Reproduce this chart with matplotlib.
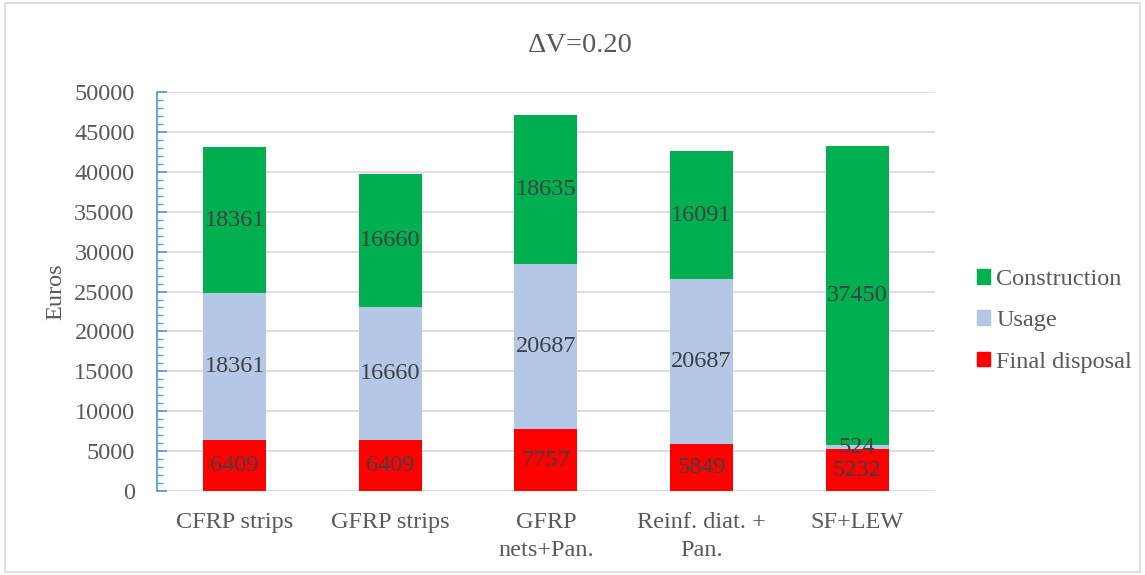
import numpy as np
import matplotlib.pyplot as plt
from matplotlib.patches import Rectangle, Patch
from matplotlib.ticker import MultipleLocator

plt.rcParams['font.family'] = ['Liberation Serif', 'DejaVu Serif']

categories = ["CFRP strips", "GFRP strips", "GFRP\nnets+Pan.", "Reinf. diat. +\nPan.", "SF+LEW"]
final_disposal = [6409, 6409, 7757, 5849, 5232]
usage = [18361, 16660, 20687, 20687, 524]
construction = [18361, 16660, 18635, 16091, 37450]

c_final = "#FF0000"
c_usage = "#B4C7E7"
c_constr = "#00B050"
txt = "#404040"
tick_col = "#595959"

fig = plt.figure(figsize=(11.45, 5.75), dpi=100)
ax = fig.add_axes([0.137, 0.146, 0.6796, 0.694])

x = np.arange(len(categories))
w = 0.405
fin = np.array(final_disposal)
use = np.array(usage)
con = np.array(construction)

b1 = ax.bar(x, fin, w, color=c_final, zorder=2)
b2 = ax.bar(x, use, w, bottom=fin, color=c_usage, zorder=2)
b3 = ax.bar(x, con, w, bottom=fin + use, color=c_constr, zorder=2)

for bars, vals in [(b1, fin), (b2, use), (b3, con)]:
    ax.bar_label(bars, labels=[str(v) for v in vals], label_type='center',
                 color=txt, fontsize=17.5)

ax.set_xlim(-0.5, len(categories) - 0.5)
ax.set_ylim(0, 50000)
ax.yaxis.set_major_locator(MultipleLocator(5000))
ax.yaxis.set_minor_locator(MultipleLocator(1000))
ax.grid(axis='y', color="#D9D9D9", linewidth=1.2, zorder=0)
ax.set_axisbelow(True)

for s in ['top', 'right', 'bottom']:
    ax.spines[s].set_visible(False)
ax.spines['left'].set_color("#5B9BD5")
ax.spines['left'].set_linewidth(1.3)

ax.tick_params(axis='y', which='major', direction='in', length=7, width=1.3,
               color="#5B9BD5", labelsize=17.5, labelcolor=tick_col, pad=16)
ax.tick_params(axis='y', which='minor', direction='in', length=4, width=1.0,
               color="#5B9BD5")
ax.tick_params(axis='x', length=0, labelsize=17.5, labelcolor=tick_col, pad=15)
ax.set_xticks(x)
ax.set_xticklabels(categories, linespacing=1.45)

ax.set_ylabel("Euros", fontsize=17.5, color=tick_col, labelpad=6)
fig.text(0.507, 0.921, "\u0394V=0.20", ha='center', va='center', fontsize=20.5, color=tick_col)

handles = [Patch(color=c_constr), Patch(color=c_usage), Patch(color=c_final)]
fig.legend(handles, ["Construction", "Usage", "Final disposal"],
           loc='center left', bbox_to_anchor=(0.853, 0.442), frameon=False,
           fontsize=17.5, handlelength=0.55, handleheight=0.55, handletextpad=0.25,
           labelspacing=0.83, borderpad=0, borderaxespad=0, labelcolor=tick_col)

fig.patches.append(Rectangle((0.004, 0.006), 0.992, 0.988, transform=fig.transFigure,
                             fill=False, edgecolor="#D9D9D9", linewidth=1.2))

fig.savefig("out.png", dpi=100)
